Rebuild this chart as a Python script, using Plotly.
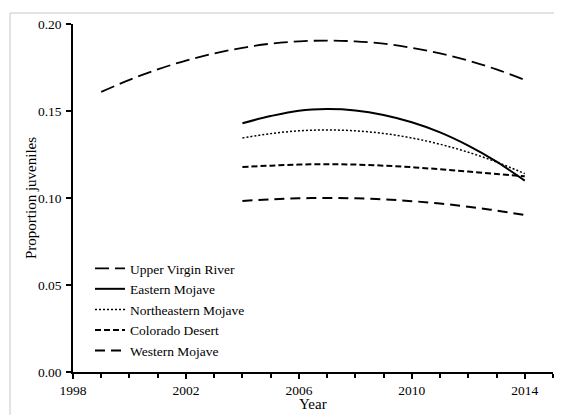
import plotly.graph_objects as go

years_uvr = [1999, 2000, 2001, 2002, 2003, 2004, 2005, 2006, 2007, 2008, 2009, 2010, 2011, 2012, 2013, 2014]
upper_virgin_river = [0.1610, 0.1679, 0.1739, 0.1790, 0.1831, 0.1863, 0.1887, 0.1900, 0.1905, 0.1900, 0.1887, 0.1863, 0.1831, 0.1790, 0.1739, 0.1679]

years = [2004, 2005, 2006, 2007, 2008, 2009, 2010, 2011, 2012, 2013, 2014]
eastern_mojave = [0.1430, 0.1471, 0.1502, 0.1511, 0.1503, 0.1477, 0.1435, 0.1377, 0.1301, 0.1209, 0.1100]
northeastern_mojave = [0.1345, 0.1370, 0.1386, 0.1391, 0.1386, 0.1371, 0.1345, 0.1309, 0.1263, 0.1207, 0.1140]
colorado_desert = [0.1178, 0.1186, 0.1192, 0.1194, 0.1192, 0.1186, 0.1177, 0.1165, 0.1152, 0.1138, 0.1125]
western_mojave = [0.0983, 0.0992, 0.0998, 0.1000, 0.0998, 0.0992, 0.0982, 0.0968, 0.0950, 0.0928, 0.0902]

x_tick_vals = [1998, 2002, 2006, 2010, 2014]
y_tick_vals = [0.00, 0.05, 0.10, 0.15, 0.20]

FONT = "Liberation Serif, Times New Roman, serif"

fig = go.Figure()
series = [
    ("Upper Virgin River", years_uvr, upper_virgin_river, "14px,6px", 1.8),
    ("Eastern Mojave", years, eastern_mojave, "solid", 2),
    ("Northeastern Mojave", years, northeastern_mojave, "2px,2px", 1.5),
    ("Colorado Desert", years, colorado_desert, "6px,3px", 2),
    ("Western Mojave", years, western_mojave, "10px,6px", 2),
]
for name, xs, ys, dash, w in series:
    fig.add_trace(go.Scatter(
        x=xs, y=ys, mode="lines", name=name, line_shape="spline",
        line=dict(color="black", width=w, dash=dash),
    ))

axis_common = dict(
    showgrid=False, zeroline=False, showline=True, linecolor="black", linewidth=1.5,
    ticks="outside", ticklen=5, tickcolor="black", tickwidth=1.5, automargin=False,
    tickfont=dict(family=FONT, size=13.5, color="black"),
)
fig.update_xaxes(
    range=[1998, 2015], tickvals=x_tick_vals, ticktext=[str(v) for v in x_tick_vals],
    minor=dict(dtick=1, tick0=1998, ticks="outside", ticklen=4, tickcolor="black", tickwidth=1.5),
    **axis_common,
)
fig.update_yaxes(
    range=[0, 0.20], tickvals=y_tick_vals, tickformat=".2f", ticklabelstandoff=2,
    **axis_common,
)

# page has an 8px body margin; figure origin sits at (8, 8) of the window
OFF = 8
W, H = 554, 407
L, T = 73 - OFF, 24 - OFF
R = W - (553 - OFF)
B = H - (372 - OFF)
pw, ph = W - L - R, H - T - B

def px_x(page_x):
    return (page_x - OFF - L) / pw

def px_y(page_y):
    return (H - B - (page_y - OFF)) / ph

fig.add_shape(
    type="rect", xref="paper", yref="paper",
    x0=px_x(10), x1=px_x(575), y0=px_y(430), y1=px_y(13),
    line=dict(color="#c8c8c8", width=1), fillcolor="rgba(0,0,0,0)", layer="below",
)
fig.add_annotation(
    text="Year", xref="paper", yref="paper", x=0.5, y=px_y(404),
    showarrow=False, xanchor="center", yanchor="middle",
    font=dict(family=FONT, size=15, color="black"),
)
fig.add_annotation(
    text="Proportion juveniles", xref="paper", yref="paper", x=px_x(31), y=0.5,
    showarrow=False, xanchor="center", yanchor="middle", textangle=-90,
    font=dict(family=FONT, size=15, color="black"),
)

fig.update_layout(
    width=W, height=H, margin=dict(l=L, r=R, t=T, b=B),
    paper_bgcolor="white", plot_bgcolor="white",
    font=dict(family=FONT, size=14, color="black"),
    legend=dict(x=px_x(90), y=px_y(253), xanchor="left", yanchor="top",
                bgcolor="rgba(0,0,0,0)", font=dict(family=FONT, size=13.5, color="black"),
                itemwidth=30, tracegroupgap=0),
    showlegend=True,
)

fig.write_html("out.html")
